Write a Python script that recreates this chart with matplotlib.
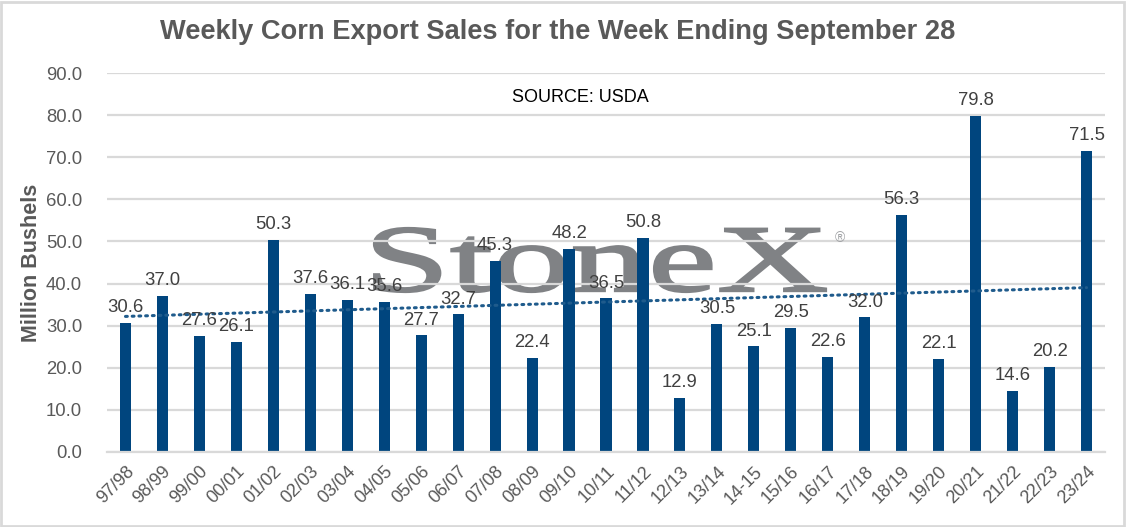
import numpy as np
import matplotlib
matplotlib.use("Agg")
import matplotlib.pyplot as plt
from matplotlib.textpath import TextPath
from matplotlib.patches import PathPatch, Rectangle
from matplotlib.font_manager import FontProperties
from matplotlib.transforms import Affine2D

plt.rcParams['font.family'] = ['Liberation Sans', 'DejaVu Sans']

years = ["97/98", "98/99", "99/00", "00/01", "01/02", "02/03", "03/04", "04/05",
         "05/06", "06/07", "07/08", "08/09", "09/10", "10/11", "11/12", "12/13",
         "13/14", "14-15", "15/16", "16/17", "17/18", "18/19", "19/20", "20/21",
         "21/22", "22/23", "23/24"]
sales = [30.6, 37.0, 27.6, 26.1, 50.3, 37.6, 36.1, 35.6, 27.7, 32.7, 45.3, 22.4,
         48.2, 36.5, 50.8, 12.9, 30.5, 25.1, 29.5, 22.6, 32.0, 56.3, 22.1, 79.8,
         14.6, 20.2, 71.5]
yticks = [0, 10, 20, 30, 40, 50, 60, 70, 80, 90]

W, H = 1126, 527
bar_col = '#00457e'
txt_col = '#595959'
grid_col = '#d9d9d9'

fig = plt.figure(figsize=(W / 100, H / 100), dpi=100)
ax = fig.add_axes([107 / W, 1 - 452 / H, 998 / W, 379 / H])

x = np.arange(len(years))
ax.bar(x, sales, width=0.3, color=bar_col, zorder=2)
for xi, v in zip(x, sales):
    ax.text(xi, v + 1.6, "%.1f" % v, ha='center', va='bottom', fontsize=13.3,
            color='#404040', zorder=4)

# linear trend line
k, b = np.polyfit(x, sales, 1)
ax.plot(x, k * x + b, linestyle=(0, (0.6, 1.6)), dash_capstyle='round',
        color='#1f5b8c', lw=2.2, zorder=3)

ax.set_xlim(-0.5, len(years) - 0.5)
ax.set_ylim(0, 90)
ax.set_yticks(yticks)
ax.set_yticklabels(["%.1f" % t for t in yticks], fontsize=13.3, color=txt_col)
ax.set_xticks(x)
ax.set_xticklabels(years, rotation=45, ha='right', va='top', rotation_mode='anchor',
                   fontsize=13, color=txt_col)
ax.tick_params(length=0)
ax.tick_params(axis='y', pad=18)
ax.tick_params(axis='x', pad=8)
ax.set_axisbelow(True)
ax.grid(axis='y', color=grid_col, lw=1.6)
for s in ['top', 'right', 'left']:
    ax.spines[s].set_visible(False)
ax.spines['bottom'].set_color(grid_col)
ax.spines['bottom'].set_linewidth(1.6)

ax.set_ylabel("Million Bushels", fontsize=15.5, fontweight='bold', color=txt_col, labelpad=3)

fig.text(0.495, 1 - 32 / H, "Weekly Corn Export Sales for the Week Ending September 28",
         ha='center', va='center', fontsize=19.6, fontweight='bold', color=txt_col)
fig.text(580 / W, 1 - 98 / H, "SOURCE: USDA", ha='center', va='center',
         fontsize=13, color='black')

# watermark logo
tp = TextPath((0, 0), "StoneX", size=100, prop=FontProperties(family='Liberation Serif'))
ext = tp.get_extents()
x0, x1 = 374 / W, 826 / W
y0, y1 = 1 - 292 / H, 1 - 228 / H
tr = Affine2D().translate(-ext.x0, -ext.y0).scale((x1 - x0) / ext.width,
                                                  (y1 - y0) / ext.height).translate(x0, y0)
logo = PathPatch(tr.transform_path(tp), facecolor='#808285', edgecolor='#808285', lw=1.6,
                 transform=fig.transFigure, zorder=0.2, clip_on=False)
ax.add_patch(logo)
fig.text(840 / W, 1 - 238 / H, "\u00ae", ha='center', va='center', fontsize=10,
         color='#a0a2a5')

fig.patches.append(Rectangle((0.001, 0.002), 0.997, 0.995, transform=fig.transFigure,
                             fill=False, edgecolor=grid_col, lw=2))

fig.savefig("out.png", dpi=100)
